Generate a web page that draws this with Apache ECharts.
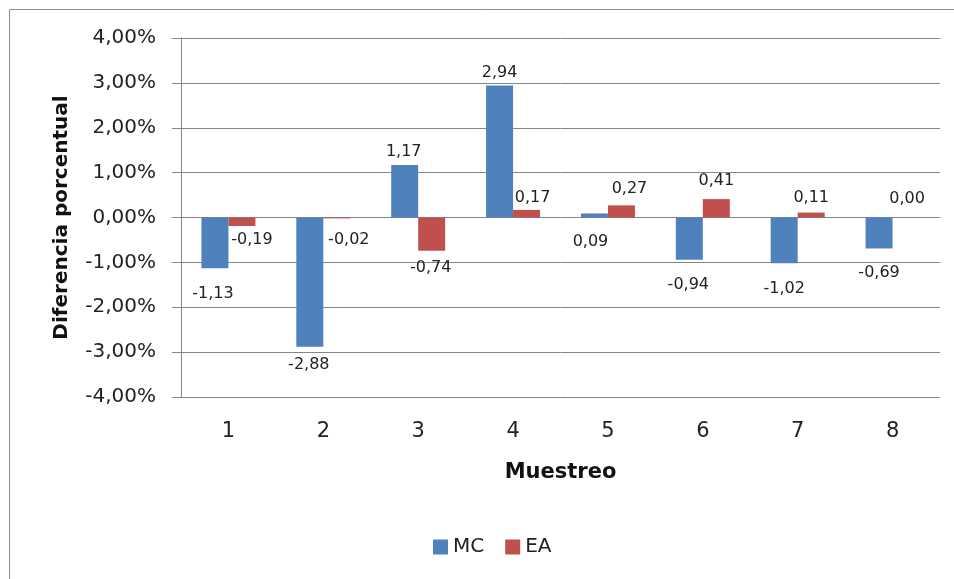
<!DOCTYPE html>
<html>
<head>
<meta charset="utf-8">
<title>Diferencia porcentual por muestreo</title>
<script src="https://cdn.jsdelivr.net/npm/echarts@6/dist/echarts.min.js"></script>
<style>
  html, body { margin: 0; padding: 0; background: #fff; }
  #chart { width: 954px; height: 579px; }
</style>
</head>
<body>
<div id="chart"></div>
<script>
var muestreos = ['1', '2', '3', '4', '5', '6', '7', '8'];
var mcValues = [-1.13, -2.88, 1.17, 2.94, 0.09, -0.94, -1.02, -0.69];
var eaValues = [-0.19, -0.02, -0.74, 0.17, 0.27, 0.41, 0.11, 0.00];
var yTicks = [-4, -3, -2, -1, 0, 1, 2, 3, 4];

// label nudges, like the hand-moved labels in the original sheet
var mcLabelShift = [[-2, 13], [-1, 5], [-1, 0], [0, 0], [-4, 41], [-1, 12], [0, 13], [0, 11]];
var eaLabelShift = [[10, 1], [12, 8], [-1, 4], [6, 1], [8, -4], [0, -5], [0, -2], [1, -6]];

var font = 'DejaVu Sans';
function comma(v) {
  return v.toFixed(2).replace('.', ',');
}

function buildData(values, shifts) {
  return values.map(function (v, i) {
    return {
      value: v,
      label: {
        position: v === 0 ? 'top' : 'outside',
        offset: shifts[i]
      }
    };
  });
}

var chart = echarts.init(document.getElementById('chart'));

var option = {
  backgroundColor: '#ffffff',
  animation: false,
  color: ['#4F81BD', '#C0504D'],
  graphic: [
    { type: 'line', shape: { x1: 9.5, y1: 9.5, x2: 954, y2: 9.5 }, style: { stroke: '#8c8c8c', lineWidth: 1 } },
    { type: 'line', shape: { x1: 9.5, y1: 9.5, x2: 9.5, y2: 579 }, style: { stroke: '#8c8c8c', lineWidth: 1 } }
  ],
  legend: {
    left: 428,
    top: 532,
    itemWidth: 15,
    itemHeight: 15,
    itemGap: 21,
    icon: 'rect',
    textStyle: { fontFamily: font, fontSize: 20, color: '#222' },
    data: ['MC', 'EA']
  },
  grid: {
    left: 181,
    right: 14,
    top: 38,
    bottom: 182
  },
  xAxis: {
    type: 'category',
    data: muestreos,
    name: 'Muestreo',
    nameLocation: 'middle',
    nameGap: 65,
    nameTextStyle: { fontFamily: font, fontSize: 21, fontWeight: 'bold', color: '#111' },
    axisLine: { show: false, onZero: false },
    axisTick: { show: false },
    axisLabel: { margin: 24, fontFamily: font, fontSize: 21, color: '#222' }
  },
  yAxis: {
    type: 'value',
    min: yTicks[0],
    max: yTicks[yTicks.length - 1],
    interval: 1,
    name: 'Diferencia porcentual',
    nameLocation: 'middle',
    nameGap: 109,
    nameTextStyle: { fontFamily: font, fontSize: 20, fontWeight: 'bold', color: '#111' },
    axisLine: { show: true, lineStyle: { color: '#868686', width: 1 } },
    axisTick: { show: true, length: 9, lineStyle: { color: '#868686' } },
    axisLabel: {
      margin: 25,
      fontFamily: font,
      fontSize: 20,
      color: '#222',
      formatter: function (v) { return comma(v) + '%'; }
    },
    splitLine: { show: true, lineStyle: { color: '#868686', width: 1 } }
  },
  series: [
    {
      name: 'MC',
      type: 'bar',
      barWidth: 27,
      barGap: '0%',
      data: buildData(mcValues, mcLabelShift),
      label: {
        show: true,
        fontFamily: font,
        fontSize: 16,
        color: '#222',
        formatter: function (p) { return comma(p.value); }
      }
    },
    {
      name: 'EA',
      type: 'bar',
      barWidth: 27,
      barGap: '0%',
      data: buildData(eaValues, eaLabelShift),
      label: {
        show: true,
        fontFamily: font,
        fontSize: 16,
        color: '#222',
        formatter: function (p) { return comma(p.value); }
      }
    }
  ]
};

chart.setOption(option);
</script>
</body>
</html>
